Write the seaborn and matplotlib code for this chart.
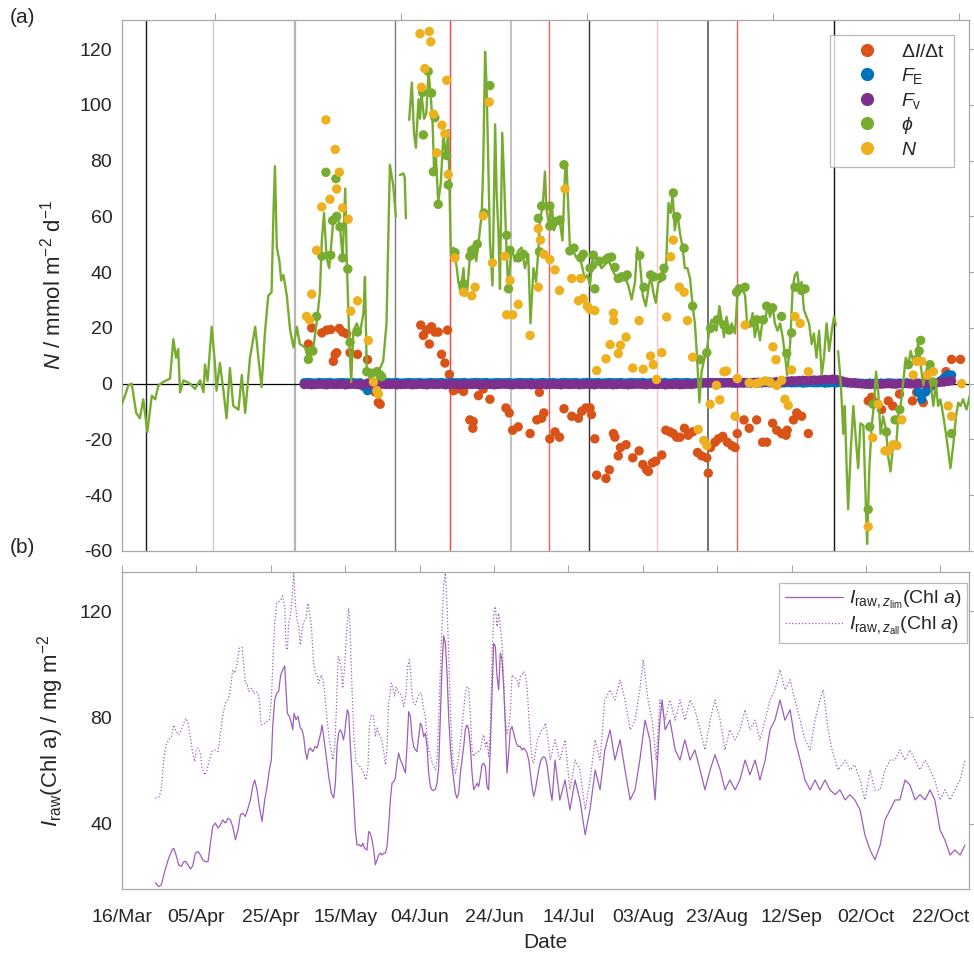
import matplotlib
matplotlib.use('Agg')
import matplotlib.pyplot as plt
from matplotlib.lines import Line2D
import pandas as pd
import seaborn as sns

# ---------------- data (x = day of year) ----------------
phi_line_doy = [
    74.9, 75.8, 76.7, 77.6, 78.8, 79.8, 80.7, 81.8, 83.0, 83.9, 84.8, 86.1, 87.9, 88.8, 89.5, 90.1,
    90.6, 91.5, 93.3, 94.6, 96.0, 96.9, 97.3, 98.0, 99.1, 100.0, 100.4, 101.3, 102.2, 103.1, 104.0,
    104.9, 106.3, 107.2, 108.1, 109.4, 110.8, 111.6, 112.5, 113.4, 114.3, 115.2, 115.7, 116.1, 116.6,
    117.3, 117.8, 118.4, 119.3, 120.2, 121.1, 122.0, 122.8, 124.2, 125.0, 126.3, 127.3, 128.2, 128.7,
    129.3, 130.0, 130.7, 131.8, 132.7, 133.6, 134.3, 135.0, 135.4, 136.1, 136.6, 137.2, 138.1, 139.0,
    139.9, 140.3, 140.8, 141.7, 142.6, 143.9, 145.2, 146.1, 147.0, 147.9, 148.6,
    149.7, 150.6, 151.0, 151.3,
    152.2, 152.9, 153.5, 154.0, 154.7, 155.1, 155.5, 156.2, 156.8, 157.4, 158.0, 158.5, 158.9, 159.4,
    160.0, 160.7, 161.4, 162.1, 162.7, 163.0, 163.4, 164.1, 165.0, 165.4, 166.0, 166.8, 167.2, 167.7,
    168.5, 169.4, 170.2, 170.8, 171.7, 172.1, 172.6, 173.0, 173.5, 173.9, 174.6, 175.3, 175.7, 176.2,
    176.6, 177.2, 177.7, 178.2, 178.8, 179.7, 180.6, 181.5, 182.4, 183.3, 184.2, 184.8, 185.6, 186.3,
    186.9, 187.4, 188.1, 188.7, 189.1, 189.9, 190.5, 191.1, 191.8, 192.7, 193.4, 194.1, 194.5, 195.4,
    196.3, 197.2, 198.1, 198.8, 199.4, 200.1, 200.8, 201.5, 202.1, 203.0, 203.9, 204.8, 205.7, 206.6,
    207.5, 208.4, 209.3, 210.2, 211.1, 212.0, 212.9, 213.5, 214.2, 215.0, 215.8, 216.5, 217.1, 217.8,
    218.5, 219.2, 219.8, 220.5, 221.2, 221.9, 222.5, 223.0, 223.6, 224.3, 225.0, 225.7, 226.3, 227.0,
    227.7, 228.4, 229.0, 229.6, 230.2, 230.8, 231.4, 232.2, 232.9, 233.5, 234.1, 234.8, 235.6, 236.2,
    236.8, 237.5, 238.2, 238.9, 239.8, 240.4, 241.1, 241.8, 242.5, 243.1, 243.8, 244.5, 245.1, 245.8,
    246.5, 247.2, 247.8, 248.5, 249.2, 249.9, 250.5, 251.2, 251.9, 252.6, 253.2, 253.8, 254.6, 255.3,
    255.9, 256.5, 257.1, 257.7, 258.3, 259.0, 259.7, 260.4, 261.0, 261.7, 262.4, 263.1, 263.7, 264.4,
    265.1, 265.8, 266.4, 266.9,
    267.5, 268.2, 268.9, 269.3, 269.8, 270.2, 270.9, 271.6, 272.3, 272.9, 273.5, 274.3, 275.0, 275.3,
    275.9, 276.5, 277.1, 277.7, 278.3, 278.9, 279.6, 280.4, 281.0, 281.6, 282.3, 283.1, 283.7, 284.3,
    285.0, 285.7, 286.4, 287.0, 287.7, 288.4, 289.0, 289.7, 290.4, 291.1, 291.7, 292.4, 293.1, 293.8,
    294.4, 295.0, 295.8, 296.5, 297.1, 297.7, 298.5, 299.2, 299.8, 300.4, 301.1, 302.0, 302.9]
phi_line_val = [
    -7.4, -4.3, -0.6, 0.0, -10.5, -12.4, -5.6, -17.3, -4.3, -5.6, -0.6, 0.6, 1.8, 16.0, 9.3, 12.4,
    -3.1, 1.2, 0.0, -1.9, 1.2, -3.1, 6.8, 1.0, 20.4, 6.8, -2.5, 7.4, -1.9, -12.4, 5.6,
    -8.0, -9.3, 3.1, -10.5, 9.3, 20.4, 10.0, -1.2, 18.0, 31.5, 32.8, 61.0, 78.0, 49.0,
    44.0, 37.0, 39.0, 31.5, 19.0, 13.0, 20.4, 14.2, 13.0, 9.0, 11.7, 21.6, 32.8, 51.3,
    61.2, 45.0, 41.4, 58.7, 61.2, 56.2, 45.0, 70.0, 45.0, 15.5, 0.6, 19.0, 21.6, 18.5,
    25.3, 38.3, 4.3, 1.8, 4.3, 4.3, 8.0, 21.6, 78.5, 71.1, 60.0,
    74.8, 75.4, 74.0, 59.3,
    94.6, 108.0, 89.6, 84.6, 102.0, 95.0, 104.0, 95.0, 97.0, 112.0, 103.0, 93.0, 76.0, 81.0,
    65.0, 72.0, 89.6, 81.0, 91.0, 72.0, 46.4, 48.8, 41.4, 36.5, 32.8, 41.4, 31.5, 32.0,
    45.0, 48.8, 43.9, 50.0, 61.2, 78.5, 119.0, 107.0, 76.0, 51.3, 35.2, 93.0, 68.6, 53.8,
    34.0, 90.0, 73.6, 53.8, 34.0, 49.0, 43.9, 47.6, 48.8, 41.4, 46.4, 21.6, 41.4, 36.5,
    47.6, 59.3, 63.6, 76.0, 62.4, 56.2, 64.8, 55.0, 57.4, 58.0, 51.3, 76.0, 78.5, 48.8,
    47.6, 45.0, 45.0, 41.4, 37.7, 39.0, 35.2, 45.0, 41.4, 43.9, 41.4, 42.6, 45.0, 41.4,
    39.0, 36.5, 39.0, 38.3, 35.2, 30.2, 36.5, 48.8, 43.9, 31.5, 27.8, 34.0, 39.0, 32.8,
    29.0, 36.5, 36.5, 41.4, 40.0, 64.8, 61.2, 68.6, 55.0, 61.2, 53.8, 48.8, 41.4, 41.4,
    37.7, 27.8, 21.6, 9.3, -6.8, 4.3, 8.0, 11.7, 19.7, 22.9, 21.6, 19.0, 27.8, 22.9,
    16.7, 24.0, 19.0, 21.6, 18.0, 31.5, 32.8, 34.0, 31.5, 20.4, 20.4, 25.3, 16.7, 21.6,
    15.5, 22.9, 21.6, 27.8, 24.0, 27.8, 21.6, 19.0, 21.6, 16.7, 10.5, 3.1, 14.2, 34.6,
    39.0, 40.0, 34.0, 36.5, 26.6, 24.0, 21.6, 14.2, 18.0, 9.3, 19.0, 3.1, 9.3, 21.6,
    11.7, 19.0, 24.0, 21.0,
    11.7, 0.6, -18.0, -8.0, -30.3, -45.0, -24.0, -8.0, -20.4, -30.3, -14.2, -15.0, -45.0, -57.5,
    -30.3, -15.5, -8.0, 4.3, -3.1, -18.0, -11.7, -16.7, -26.6, -31.5, -21.6, -23.0, -10.5, -8.0,
    0.6, 9.3, 6.8, 11.7, 8.0, 9.0, 14.2, 6.8, -0.6, 4.3, 6.8, 0.0, -8.0, -0.6,
    -8.0, -5.6, -11.7, -18.0, -24.0, -30.3, -21.6, -11.7, -6.8, -8.0, -5.6, -9.3, -4.3]
# day of year where the phi record is broken
phi_gaps = [149.2, 151.8, 267.2]

phi_dot_doy = [125.1, 125.7, 126.3, 127.3, 128.7, 129.8, 131.1, 131.6, 132.5, 132.7, 133.6, 134.3,
               135.7, 136.3, 138.3, 140.8, 142.1, 143.5, 144.4, 144.8, 155.8, 156.0, 157.3, 158.2,
               158.7, 159.1, 160.0, 162.3, 162.7, 164.5, 166.8, 168.5, 169.0, 169.6, 170.5, 172.3,
               173.9, 178.4, 178.9, 179.3, 181.5, 182.9, 186.9, 187.2, 187.8, 190.0, 190.0, 191.4,
               192.7, 193.8, 195.4, 196.5, 198.3, 199.0, 200.8, 201.7, 202.1, 203.3, 205.1, 205.7,
               206.6, 207.5, 208.4, 209.3, 210.2, 210.8, 214.2, 215.3, 217.1, 218.0, 220.1, 220.7,
               223.2, 224.1, 226.1, 228.4, 230.4, 232.2, 233.2, 235.0, 236.8, 238.2, 240.2, 240.9,
               242.5, 244.7, 245.6, 247.4, 248.3, 249.9, 252.3, 253.7, 255.0, 255.9, 257.7, 258.6,
               275.6, 276.0, 276.9, 280.5, 282.8, 284.1, 286.4, 288.6, 289.3, 289.7, 292.2, 293.1,
               298.0]
phi_dot_val = [8.7, 11.7, 11.7, 24.1, 45.7, 75.8, 46.1, 58.5, 73.5, 60.0, 56.2, 45.1,
               41.1, 14.8, 18.5, 4.3, 3.7, 4.3, 3.1, 2.5, 104.4, 89.2, 112.0, 104.2,
               76.0, 95.4, 64.3, 81.8, 71.3, 47.0, 35.8, 45.7, 47.8, 48.2, 50.0, 61.2,
               106.9, 53.2, 34.0, 47.8, 45.1, 46.4, 59.3, 47.3, 63.7, 63.7, 56.5, 58.1,
               58.7, 78.5, 47.6, 48.6, 45.1, 46.4, 41.4, 46.1, 34.0, 43.9, 44.5, 45.1,
               45.4, 41.7, 37.7, 38.3, 38.3, 39.0, 46.0, 34.6, 39.0, 38.3, 38.3, 41.4,
               68.4, 59.9, 48.6, 27.8, 8.6, 11.1, 19.8, 22.9, 21.0, 19.2, 32.8, 34.0,
               34.6, 21.9, 22.9, 22.9, 27.8, 27.2, 24.1, 10.8, 18.2, 34.6, 33.4, 34.0,
               -45.1, -15.5, -7.4, -17.3, -13.0, -9.3, 6.8, 8.7, 11.7, 15.5, 6.8, 0.6,
               -17.9]

dIdt_doy = [125.1, 126.0, 128.7, 130.0, 131.1, 131.8, 132.3, 132.7, 133.4, 134.3, 135.4, 136.3,
            138.3, 141.0, 143.0, 143.9, 144.4, 155.3, 156.0, 156.9, 157.6, 158.2, 159.1, 160.0,
            160.9, 161.8, 162.5, 163.0, 164.1, 165.0, 166.8, 168.5, 169.3, 169.4, 170.8, 172.1,
            173.9, 178.2, 179.1, 180.0, 181.5, 184.7, 186.5, 187.2, 187.8, 188.4, 190.0, 191.4,
            192.6, 193.8, 195.9, 197.7, 198.6, 199.7, 200.8, 201.2, 202.1, 202.6, 205.1, 206.0,
            207.1, 207.5, 208.4, 209.0, 210.5, 212.3, 214.0, 215.0, 216.0, 216.5, 217.6, 218.5,
            220.1, 221.2, 222.3, 223.2, 224.1, 225.0, 226.2, 227.2, 228.4, 229.7, 230.8, 232.2,
            232.6, 233.2, 234.4, 235.3, 236.5, 237.7, 238.9, 239.8, 240.4, 242.2, 243.6, 245.6,
            247.2, 248.3, 249.9, 251.0, 252.3, 253.5, 253.8, 255.5, 256.4, 257.7, 259.5, 275.6,
            276.5, 277.4, 279.2, 281.0, 282.2, 284.0, 287.5, 288.6, 290.4, 296.5, 297.1, 298.0,
            300.4]
dIdt_val = [14.2, 20.0, 18.2, 19.2, 19.4, 8.0, 10.5, 11.1, 19.8, 18.5, 17.9, 11.1,
            10.5, 8.6, -3.0, -6.8, -7.4, 21.0, 17.3, 19.2, 14.2, 20.4, 18.5, 18.5,
            10.5, 7.4, 19.2, 3.3, -2.5, -1.9, -2.8, -13.0, -16.0, -13.6, -4.3, -1.9,
            -5.6, -8.7, -10.5, -16.7, -15.5, -17.9, -13.0, -3.1, -12.4, -10.5, -19.8, -17.3,
            -19.2, -9.0, -11.7, -12.4, -9.9, -8.7, -8.7, -11.1, -19.8, -32.8, -34.0, -30.9,
            -17.9, -19.2, -25.9, -22.9, -21.9, -26.6, -24.1, -29.0, -30.9, -31.5, -28.4, -27.8,
            -25.6, -16.7, -17.3, -17.9, -19.2, -19.2, -16.0, -18.5, -17.3, -24.7, -25.9, -26.6,
            -32.1, -22.9, -21.0, -19.8, -18.9, -21.0, -22.2, -22.9, -17.9, -13.0, -16.0, -13.0,
            -21.0, -21.0, -14.2, -16.7, -17.9, -18.5, -16.7, -13.0, -10.5, -11.7, -17.9, -6.2,
            -4.9, -6.8, -9.3, -6.2, -8.0, -3.7, -6.2, -3.1, -6.8, 4.3, 1.8, 8.7,
            8.7]

n_doy = [124.6, 125.4, 126.0, 127.3, 128.7, 129.8, 130.9, 132.3, 132.7, 133.4, 134.3, 135.8,
         136.5, 138.3, 141.2, 142.6, 143.5, 143.9, 155.1, 155.5, 156.4, 157.6, 158.0, 158.7,
         159.6, 161.0, 161.8, 162.3, 162.7, 164.5, 166.8, 169.0, 169.9, 172.1, 173.7, 174.6,
         177.9, 178.4, 179.3, 180.0, 181.5, 184.7, 186.9, 186.9, 187.5, 188.4, 190.0, 191.4,
         192.6, 194.1, 195.9, 197.7, 198.3, 199.0, 200.1, 200.8, 202.1, 202.6, 205.1, 206.2,
         207.1, 207.2, 208.4, 209.0, 210.5, 212.3, 214.0, 215.1, 217.1, 217.8, 218.7, 220.1,
         221.4, 222.5, 223.2, 224.8, 226.1, 227.0, 228.4, 229.9, 231.4, 232.2, 233.1, 234.8,
         235.7, 236.8, 237.5, 239.8, 240.4, 242.5, 243.6, 245.4, 246.5, 247.9, 249.2, 250.0,
         250.8, 251.0, 252.3, 253.2, 254.1, 255.0, 255.9, 257.3, 259.5, 275.6, 276.8, 278.3,
         280.1, 281.0, 282.3, 283.3, 284.6, 287.7, 288.6, 290.0, 291.5, 293.1, 297.1, 298.0,
         300.7]
n_val = [24.1, 22.9, 32.1, 47.8, 63.4, 94.6, 66.1, 84.0, 69.8, 75.8, 63.0, 59.0,
         26.0, 29.7, 15.5, 0.6, -2.5, -3.7, 125.5, 106.3, 113.0, 126.3, 122.6, 96.7,
         82.8, 92.7, 89.6, 108.8, 75.0, 45.1, 32.8, 31.5, 34.6, 60.2, 101.0, 43.3,
         45.7, 24.7, 37.0, 24.7, 28.4, 17.3, 55.6, 34.6, 51.5, 46.4, 44.5, 40.8,
         33.4, 69.8, 37.7, 29.7, 37.7, 30.5, 27.8, 26.6, 26.2, 4.7, 8.9, 14.0,
         25.3, 22.6, 10.8, 13.8, 16.7, 5.6, 22.6, 5.2, 9.9, 6.8, 1.5, 11.1,
         23.9, 45.5, 51.5, 34.6, 32.8, 22.6, 9.5, -16.4, -20.4, -22.2, -7.4, -0.6,
         -5.8, 4.3, 4.5, -11.7, 1.8, 21.0, 0.3, 0.0, 0.5, 1.0, 0.5, 13.2,
         8.6, -0.6, 1.2, -5.6, -7.8, 4.9, 24.1, 21.6, 4.3, -51.3, -19.4, -7.4,
         -24.1, -24.1, -21.9, -22.2, -13.0, 3.1, 8.0, 8.0, 3.1, 4.3, -8.0, -11.7,
         0.0]

flux_doy = list(range(124, 268)) + list(range(268, 299))
fv_val = [
    -0.3, -0.2, -0.4, -0.3, -0.2, -0.3, -0.4, -0.2, -0.3, -0.3, -0.2, -0.4,
    -0.3, -0.2, -0.3, -0.4, -0.3, 0.2, -0.2, -0.3, -0.4, -0.2, -0.3, -0.3,
    -0.2, -0.4, -0.3, -0.3, -0.2, -0.4, -0.3, -0.2, -0.3, -0.4, -0.2, -0.3,
    -0.3, -0.2, -0.4, -0.3, -0.2, -0.3, -0.4, -0.2, -0.3, -0.3, -0.2, -0.4,
    -0.3, -0.2, -0.3, -0.4, -0.3, -0.2, -0.2, -0.3, -0.4, -0.2, -0.3, -0.3,
    -0.2, -0.4, -0.3, -0.3, -0.2, -0.4, -0.3, -0.2, -0.3, -0.4, -0.2, -0.3,
    -0.3, -0.2, -0.4, -0.3, -0.2, -0.3, -0.4, -0.2, -0.3, -0.3, -0.2, -0.4,
    -0.3, -0.2, -0.3, -0.4, -0.3, -0.2, -0.2, -0.3, -0.4, -0.2, -0.3, -0.3,
    -0.2, -0.4, -0.3, -0.3, -0.2, -0.4, -0.3, -0.2, -0.3, -0.1, 0.0, 0.2,
    0.3, 0.2, 0.4, 0.3, 0.2, 0.3, 0.4, 0.2, 0.3, 0.3, 0.2, 0.4,
    0.3, 0.4, 0.5, 0.4, 0.5, 0.6, 0.5, 0.7, 0.8, 0.7, 0.9, 1.0,
    1.0, 1.1, 1.2, 1.1, 1.2, 1.3, 1.2, 1.4, 1.5, 1.4, 1.6, 1.5,
    1.2, 0.8, 0.5, 0.3, 0.2, 0.0, -0.1, -0.2, -0.3, -0.2, -0.3, -0.2,
    -0.1, 0.0, -0.1, -0.2, 0.0, 0.1, 0.0, -0.1, 0.0, 0.2, 0.1, 0.0,
    -0.1, 0.0, 0.3, 0.5, 0.6, 0.8, 1.0]
fe_val = [
    0.3, 0.4, 0.3, 0.2, 0.4, 0.3, 0.3, 0.4, 0.2, 0.3, 0.4, 0.3,
    0.3, 0.4, 0.2, 0.3, -1.0, -2.5, 0.3, 0.4, 0.3, 0.2, 0.4, 0.3,
    0.3, 0.4, 0.2, 0.3, 0.4, 0.3, 0.3, 0.4, 0.2, 0.3, 0.4, 0.3,
    0.3, 0.4, 0.2, 0.3, 0.4, 0.3, 0.3, 0.4, 0.2, 0.3, 0.4, 0.3,
    0.3, 0.4, 0.2, 0.3, 0.4, 0.3, 0.3, 0.4, 0.2, 0.3, 0.4, 0.3,
    0.3, 0.4, 0.2, 0.3, 0.4, 0.3, 0.3, 0.4, 0.2, 0.3, 0.4, 0.3,
    0.3, 0.4, 0.2, 0.3, 0.4, 0.3, 0.3, 0.4, 0.2, 0.3, 0.4, 0.3,
    0.3, 0.4, 0.2, 0.3, 0.4, 0.3, 0.3, 0.4, 0.2, 0.3, 0.4, 0.3,
    0.3, 0.4, 0.2, 0.3, 0.4, 0.3, 0.3, 0.4, 0.2, 0.3, 0.4, 0.3,
    0.3, 0.4, 0.2, 0.3, 0.4, 0.3, 0.3, 0.4, 0.2, 0.3, 0.4, 0.3,
    0.3, 0.4, 0.2, 0.3, 0.4, 0.3, 0.3, 0.4, 0.2, 0.3, 0.4, 0.3,
    0.3, 0.4, 0.2, 0.3, 0.4, 0.3, 0.3, 0.4, 0.2, 0.3, 0.4, 0.3,
    0.5, 0.4, 0.3, 0.2, 0.3, 0.2, 0.1, 0.0, 0.2, 0.1, 0.0, 0.2,
    0.1, 0.3, 0.2, 0.1, 0.2, 0.0, 0.3, 0.1, 0.2, -3.0, -5.6, -3.0,
    -1.5, -0.6, 0.3, 1.0, 2.0, 3.1, 3.1]

# I_raw,z_lim (solid) : (day of year, mg m-2)
lim_points = [
    (83.96, 17.9), (84.86, 16.4), (85.57, 17.1), (86.47, 22.1), (87.54, 27.1), (88.44, 30.2),
    (88.89, 30.8), (89.52, 28.3), (90.23, 24.6), (90.95, 24.0), (91.58, 25.8), (92.2, 25.8),
    (92.74, 24.6), (93.37, 23.0), (94.0, 24.2), (94.71, 29.0), (95.43, 29.6), (96.06, 28.3),
    (96.68, 26.5), (97.4, 25.8), (98.12, 25.8), (98.75, 32.7), (99.37, 39.0), (100.09, 40.3),
    (100.81, 38.4), (101.43, 39.6), (102.06, 41.5), (102.78, 40.3), (103.49, 42.1), (104.12, 41.5),
    (104.75, 39.0), (105.47, 34.0), (106.18, 37.7), (106.81, 43.4), (107.44, 44.0), (108.15, 42.8),
    (108.87, 45.9), (109.5, 49.0), (110.13, 54.0), (110.66, 56.5), (111.29, 52.8), (111.92, 46.5),
    (112.63, 40.9), (113.35, 49.0), (113.98, 54.0), (114.61, 60.3), (115.14, 64.1), (115.5, 76.6),
    (116.04, 86.6), (116.58, 89.1), (117.11, 89.8), (117.65, 96.0), (118.19, 97.9), (118.73, 99.4),
    (119.09, 90.4), (119.44, 81.6), (119.98, 80.4), (120.52, 77.9), (120.88, 75.4), (121.24, 81.6),
    (121.77, 79.1), (122.31, 80.4), (122.94, 76.0), (123.39, 75.4), (123.84, 72.8), (124.28, 67.2),
    (124.73, 64.3), (125.18, 67.8), (125.63, 68.5), (126.25, 67.2), (126.97, 69.1), (127.42, 68.5),
    (127.87, 71.0), (128.41, 74.1), (128.76, 77.2), (129.21, 72.8), (129.84, 66.0), (130.56, 57.8),
    (131.27, 51.5), (131.9, 49.7), (132.35, 55.3), (132.8, 69.1), (133.24, 74.1), (133.69, 75.4),
    (134.14, 74.1), (134.5, 71.6), (134.86, 74.1), (135.22, 79.1), (135.57, 82.9), (135.93, 81.6),
    (136.38, 69.1), (136.83, 59.1), (137.28, 49.0), (137.72, 37.7), (138.17, 32.1), (138.8, 32.1),
    (139.34, 31.5), (139.7, 32.7), (140.23, 30.8), (140.86, 30.2), (141.31, 37.1), (141.76, 36.5),
    (142.2, 34.0), (142.65, 30.2), (143.1, 24.6), (143.55, 26.5), (144.0, 28.3), (144.44, 29.0),
    (144.89, 28.3), (145.34, 29.0), (145.79, 29.0), (146.24, 31.5), (146.68, 39.0), (147.13, 49.0),
    (147.58, 55.3), (148.03, 55.9), (148.48, 57.2), (148.92, 62.8), (149.37, 66.6), (149.82, 64.1),
    (150.27, 62.8), (150.72, 60.9), (151.16, 59.1), (151.61, 69.1), (152.06, 82.2), (152.51, 80.4),
    (152.96, 72.8), (153.41, 69.1), (153.85, 67.8), (154.3, 67.2), (154.75, 72.8), (155.2, 77.9),
    (155.65, 76.6), (156.09, 72.8), (156.54, 74.1), (156.99, 69.1), (157.44, 59.1), (157.89, 54.0),
    (158.33, 52.8), (158.78, 52.5), (159.23, 53.0), (159.68, 55.3), (160.13, 61.6), (160.57, 80.4),
    (161.02, 99.2), (161.47, 110.7), (161.92, 107.9), (162.37, 96.7), (162.81, 80.4), (163.26, 69.1),
    (163.71, 61.6), (164.16, 56.5), (164.61, 51.5), (165.05, 49.7), (165.5, 51.5), (165.95, 59.1),
    (166.4, 64.1), (166.85, 69.1), (167.29, 75.4), (167.74, 77.2), (168.19, 75.4), (168.64, 69.1),
    (169.09, 59.1), (169.53, 52.8), (169.98, 54.0), (170.43, 55.3), (170.88, 54.0), (171.33, 57.8),
    (171.77, 62.2), (172.22, 62.8), (172.67, 61.6), (173.12, 54.0), (173.57, 52.8), (174.01, 69.1),
    (174.46, 89.1), (174.91, 107.9), (175.36, 106.7), (175.81, 95.4), (176.25, 90.4), (176.7, 104.2),
    (177.15, 101.7), (177.6, 91.6), (178.05, 76.6), (178.49, 59.1), (178.94, 66.6), (179.39, 75.4),
    (179.84, 76.6), (180.29, 74.1), (180.73, 71.6), (181.18, 69.7), (181.63, 69.1), (182.08, 69.1),
    (182.53, 67.8), (182.97, 68.5), (183.42, 67.8), (183.87, 66.6), (184.32, 64.1), (184.77, 59.1),
    (185.22, 54.0), (185.66, 50.3), (186.11, 52.8), (186.56, 56.5), (187.01, 60.3), (187.46, 63.4),
    (187.9, 64.7), (188.35, 65.3), (188.8, 64.7), (189.25, 62.2), (189.7, 57.2), (190.14, 52.5),
    (190.59, 48.8), (191.4, 64.0), (192.7, 49.0), (194.1, 56.5), (195.4, 45.3), (196.8, 56.5),
    (198.1, 49.0), (199.5, 35.9), (200.8, 45.3), (202.2, 60.3), (203.5, 52.8), (204.8, 67.8),
    (206.2, 75.4), (207.5, 64.0), (208.9, 71.6), (210.2, 60.3), (211.6, 49.0), (212.9, 52.8),
    (214.2, 64.0), (215.6, 79.0), (216.9, 71.6), (218.3, 49.0), (219.6, 79.0), (220.2, 86.6),
    (221.0, 75.4), (222.3, 79.0), (223.7, 67.8), (225.0, 64.0), (226.3, 71.6), (227.7, 64.0),
    (229.0, 67.8), (230.4, 60.3), (231.7, 52.8), (233.1, 60.3), (234.4, 66.0), (235.8, 60.3),
    (237.1, 52.8), (238.4, 56.5), (239.8, 52.8), (241.1, 56.5), (242.5, 64.0), (243.8, 58.4),
    (245.2, 64.0), (246.5, 56.5), (247.9, 64.0), (249.2, 75.4), (250.5, 79.0), (251.9, 86.6),
    (253.2, 79.0), (254.6, 82.9), (255.9, 71.6), (257.3, 64.0), (258.6, 56.5), (260.0, 52.8),
    (261.3, 56.5), (262.6, 52.8), (264.0, 56.5), (265.3, 52.8), (266.7, 51.0), (268.0, 52.8),
    (269.4, 49.0), (270.7, 51.0), (272.0, 49.0), (273.4, 45.3), (274.7, 35.9), (276.1, 30.2),
    (277.4, 26.5), (278.8, 32.0), (280.1, 41.5), (281.5, 45.3), (282.8, 49.0), (284.1, 49.0),
    (285.5, 56.5), (286.8, 54.7), (288.2, 49.0), (289.5, 51.0), (290.9, 49.0), (292.2, 52.8),
    (293.5, 49.0), (294.9, 37.7), (296.2, 34.0), (297.6, 28.3), (298.9, 30.2), (300.3, 28.3),
    (301.6, 32.0)]

# I_raw,z_all (dotted) : (day of year, mg m-2)
all_points = [
    (83.96, 49.7), (84.86, 50.0), (85.57, 52.8), (86.2, 64.1), (86.83, 69.7), (87.54, 71.6),
    (88.26, 72.8), (88.89, 77.2), (89.52, 74.7), (90.23, 73.5), (90.95, 75.4), (91.58, 77.9),
    (92.2, 79.7), (92.74, 77.9), (93.37, 72.8), (94.0, 66.6), (94.53, 63.4), (94.89, 67.8),
    (95.43, 68.5), (96.06, 66.6), (96.5, 60.9), (97.22, 58.4), (97.85, 60.3), (98.48, 64.1),
    (99.19, 67.2), (99.91, 67.8), (100.81, 67.2), (101.43, 74.1), (102.06, 80.4), (102.78, 85.4),
    (103.49, 86.6), (104.12, 90.4), (104.75, 97.9), (105.29, 96.7), (105.91, 100.4), (106.54, 106.1),
    (107.26, 106.4), (107.71, 100.4), (108.15, 92.9), (108.6, 92.9), (109.05, 89.8), (109.77, 91.0),
    (110.39, 89.1), (111.02, 89.8), (111.56, 89.1), (111.92, 86.6), (112.28, 78.5), (112.63, 77.2),
    (113.35, 77.9), (113.98, 78.5), (114.61, 79.1), (115.14, 86.6), (115.5, 99.2), (116.04, 115.5),
    (116.58, 123.0), (117.11, 123.6), (117.65, 124.2), (118.19, 125.7), (118.73, 121.7), (119.09, 106.7),
    (119.44, 105.4), (119.8, 115.5), (120.25, 118.0), (120.7, 124.2), (121.15, 134.3), (121.59, 123.0),
    (122.04, 116.7), (122.49, 114.2), (122.94, 107.3), (123.39, 113.0), (123.84, 116.1), (124.46, 117.3),
    (125.0, 123.0), (125.36, 119.9), (125.9, 114.2), (126.52, 100.4), (126.97, 96.7), (127.42, 96.0),
    (127.87, 92.9), (128.58, 96.0), (129.03, 94.2), (129.48, 89.1), (130.11, 79.1), (130.74, 71.6),
    (131.27, 67.2), (131.72, 64.1), (132.17, 69.1), (132.62, 82.9), (133.06, 102.9), (133.42, 101.7),
    (133.96, 97.9), (134.32, 91.0), (134.86, 99.2), (135.39, 113.0), (135.93, 121.1), (136.29, 114.2),
    (136.83, 90.4), (137.37, 71.6), (137.9, 63.4), (138.62, 62.2), (139.34, 60.9), (139.96, 59.1),
    (140.59, 56.5), (141.13, 61.6), (141.49, 76.6), (142.03, 81.0), (142.65, 80.4), (143.1, 72.8),
    (143.55, 76.0), (144.0, 74.1), (144.44, 72.8), (144.89, 71.0), (145.34, 67.2), (145.79, 62.2),
    (146.24, 68.5), (146.68, 85.4), (147.4, 92.9), (147.76, 91.6), (148.3, 87.9), (148.66, 91.6),
    (149.19, 89.8), (149.82, 89.1), (150.27, 87.3), (150.72, 84.1), (151.34, 89.1), (151.79, 99.2),
    (152.24, 101.7), (152.6, 96.7), (152.96, 88.5), (153.41, 85.4), (153.85, 84.8), (154.3, 86.6),
    (154.93, 89.1), (155.47, 89.1), (156.09, 82.9), (156.54, 80.4), (156.99, 72.8), (157.44, 67.8),
    (158.15, 64.1), (158.78, 61.6), (159.23, 60.3), (159.68, 64.1), (160.13, 79.1), (160.57, 97.9),
    (161.02, 114.2), (161.47, 130.5), (161.92, 134.3), (162.37, 121.7), (162.81, 104.2), (163.26, 84.1),
    (163.71, 69.1), (164.16, 61.6), (164.61, 59.1), (165.05, 61.6), (165.5, 65.3), (165.95, 70.3),
    (166.4, 76.6), (166.85, 82.9), (167.29, 89.1), (167.74, 91.6), (168.19, 91.0), (168.64, 80.4),
    (169.09, 67.8), (169.53, 65.3), (169.98, 66.6), (170.43, 66.6), (170.88, 67.2), (171.33, 67.8),
    (171.77, 71.6), (172.22, 73.5), (172.67, 69.1), (173.12, 71.0), (173.57, 65.3), (174.01, 76.6),
    (174.46, 101.7), (174.91, 119.2), (175.36, 121.7), (175.81, 114.2), (176.25, 119.2), (176.7, 114.2),
    (177.15, 107.9), (177.6, 94.2), (178.05, 79.1), (178.49, 74.1), (178.94, 76.6), (179.39, 81.6),
    (179.84, 96.0), (180.29, 95.4), (180.73, 94.8), (181.18, 94.2), (181.63, 91.6), (182.08, 95.4),
    (182.53, 96.0), (182.97, 97.3), (183.42, 96.0), (183.87, 91.6), (184.32, 81.6), (184.77, 71.6),
    (185.22, 64.1), (185.66, 62.8), (186.11, 66.6), (186.56, 71.0), (187.01, 72.8), (187.46, 74.1),
    (187.9, 75.4), (188.35, 76.0), (188.8, 77.9), (189.25, 74.1), (189.7, 69.1), (190.14, 64.1),
    (191.4, 71.6), (192.7, 64.0), (194.1, 71.6), (195.4, 52.8), (196.8, 64.0), (198.1, 60.3),
    (199.5, 45.3), (200.8, 56.5), (202.2, 71.6), (203.5, 64.0), (204.8, 86.6), (206.2, 90.4),
    (207.5, 86.6), (208.9, 94.2), (210.2, 86.6), (211.6, 75.4), (212.9, 79.0), (214.2, 90.4),
    (215.1, 101.7), (216.4, 86.6), (217.5, 79.0), (218.6, 64.0), (219.6, 86.6), (221.0, 79.0),
    (222.3, 86.6), (223.7, 79.0), (225.0, 86.6), (226.3, 79.0), (227.7, 86.6), (229.0, 82.9),
    (230.4, 75.4), (231.7, 67.8), (233.1, 79.0), (234.4, 86.6), (235.8, 79.0), (237.1, 67.8),
    (238.4, 75.4), (239.8, 71.6), (241.1, 75.4), (242.5, 82.9), (243.8, 75.4), (245.2, 79.0),
    (246.5, 71.6), (247.9, 79.0), (249.2, 86.6), (250.5, 90.4), (251.9, 98.0), (253.2, 90.4),
    (254.6, 94.2), (255.9, 86.6), (257.3, 79.0), (258.6, 71.6), (260.0, 67.8), (261.3, 79.0),
    (262.6, 86.6), (263.5, 90.4), (264.8, 75.4), (265.9, 67.8), (267.5, 60.3), (269.4, 64.0),
    (270.7, 60.3), (272.0, 62.2), (273.4, 56.5), (274.7, 49.0), (276.1, 60.3), (277.4, 52.8),
    (278.8, 52.8), (280.1, 60.3), (281.5, 64.0), (282.8, 64.0), (284.1, 67.8), (285.5, 64.0),
    (286.8, 67.8), (288.2, 64.0), (289.5, 60.3), (290.9, 64.0), (292.2, 60.3), (293.5, 56.5),
    (294.9, 49.0), (296.2, 52.8), (297.6, 49.0), (298.9, 52.8), (300.3, 56.5), (301.6, 64.0)]
lim_doy = [p[0] for p in lim_points]
lim_val = [p[1] for p in lim_points]
all_doy = [p[0] for p in all_points]
all_val = [p[1] for p in all_points]

event_doy = [81.5, 99.5, 121.5, 148.4, 163.2, 179.6, 189.8, 200.5, 218.8, 232.5, 240.3, 266.4]
event_colors = ['#1a1a1a', '#cfcfcf', '#b5b5b5', '#7a7a7a', '#ff4040', '#b8b8b8',
                '#ff5a5a', '#303030', '#f7c4c4', '#5a5a5a', '#e56060', '#111111']
event_widths = [1.0, 1.0, 1.6, 1.0, 1.0, 1.2, 1.0, 1.0, 1.0, 1.2, 1.0, 1.0]

date_ticks = [75, 95, 115, 135, 155, 175, 195, 215, 235, 255, 275, 295]
date_labels = ['16/Mar', '05/Apr', '25/Apr', '15/May', '04/Jun', '24/Jun', '14/Jul',
               '03/Aug', '23/Aug', '12/Sep', '02/Oct', '22/Oct']
top_xticks = [100, 150, 200, 250, 300]
top_yticks = [-60, -40, -20, 0, 20, 40, 60, 80, 100, 120]
bot_yticks = [40, 80, 120]

# ---------------- styling ----------------
sns.set_theme(style='white')
plt.rcParams['font.family'] = ['Liberation Sans', 'DejaVu Sans']
plt.rcParams['mathtext.fontset'] = 'custom'
plt.rcParams['mathtext.rm'] = 'Liberation Sans'
plt.rcParams['mathtext.it'] = 'Liberation Sans:italic'
plt.rcParams['mathtext.bf'] = 'Liberation Sans:bold'
plt.rcParams['axes.unicode_minus'] = False

C_RED, C_BLUE, C_PURP, C_GREEN, C_ORANGE = '#D95319', '#0072BD', '#7E2F8E', '#77AC30', '#EDB120'
C_SPINE = '#a8a8a8'
C_TEXT = '#262626'
C_LINE = '#9d5fb8'
FS = 14
MS = 46

fig = plt.figure(figsize=(9.74, 9.59), dpi=100)
ax1 = fig.add_axes([0.1253, 0.4255, 0.8696, 0.5536])
ax2 = fig.add_axes([0.1253, 0.0727, 0.8696, 0.3308])

# ---------------- panel (a) ----------------
for xv, cc, lw in zip(event_doy, event_colors, event_widths):
    ax1.axvline(xv, color=cc, lw=lw, zorder=1)
ax1.axhline(0, color='black', lw=0.9, zorder=1.5)

sns.scatterplot(x=dIdt_doy, y=dIdt_val, color=C_RED, s=MS, edgecolor='none', ax=ax1, zorder=3)
sns.scatterplot(x=flux_doy, y=fe_val, color=C_BLUE, s=MS, edgecolor='none', ax=ax1, zorder=3.1)
sns.scatterplot(x=flux_doy, y=fv_val, color=C_PURP, s=MS, edgecolor='none', ax=ax1, zorder=3.2)
df_phi = pd.DataFrame({'doy': phi_line_doy, 'val': phi_line_val})
df_phi['seg'] = df_phi['doy'].apply(lambda d: sum(d > g for g in phi_gaps))
sns.lineplot(data=df_phi, x='doy', y='val', units='seg', estimator=None, sort=False,
             color=C_GREEN, lw=1.7, ax=ax1, legend=False, zorder=3.3)
sns.scatterplot(x=phi_dot_doy, y=phi_dot_val, color=C_GREEN, s=MS, edgecolor='none', ax=ax1, zorder=3.4)
sns.scatterplot(x=n_doy, y=n_val, color=C_ORANGE, s=MS, edgecolor='none', ax=ax1, zorder=3.5)

ax1.set_xlim(75, 302.7)
ax1.set_ylim(-60, 130.4)
ax1.set_xticks(top_xticks)
ax1.set_xticklabels([])
ax1.set_yticks(top_yticks)
ax1.set_xlabel('')
ax1.set_ylabel(r'$N$ / mmol m$^{-2}$ d$^{-1}$', fontsize=16, color=C_TEXT, labelpad=10)
ax1.tick_params(axis='both', which='both', direction='out', length=5, width=0.8, pad=2,
                color=C_SPINE, labelsize=FS, labelcolor=C_TEXT, top=True, right=True,
                labelright=False, labeltop=False)
for sp in ax1.spines.values():
    sp.set_color(C_SPINE)
    sp.set_linewidth(0.9)

leg_handles = [Line2D([], [], marker='o', ls='none', color=c, markersize=8.5)
               for c in [C_RED, C_BLUE, C_PURP, C_GREEN, C_ORANGE]]
leg_labels = [r'$\Delta I/\Delta\mathrm{t}$', r'$F_{\mathrm{E}}$', r'$F_{\mathrm{v}}$',
              r'$\phi$', r'$N$']
leg1 = ax1.legend(leg_handles, leg_labels, loc='upper right', bbox_to_anchor=(0.982, 0.972),
                  fontsize=FS, frameon=True, fancybox=False, edgecolor=C_SPINE,
                  handlelength=2.9, handletextpad=0.3, labelspacing=0.24, borderpad=0.45,
                  borderaxespad=0.0)
leg1.get_frame().set_linewidth(0.9)

# ---------------- panel (b) ----------------
sns.lineplot(x=lim_doy, y=lim_val, color=C_LINE, lw=0.9, ax=ax2, estimator=None, sort=False)
sns.lineplot(x=all_doy, y=all_val, color=C_LINE, lw=0.9, ls=':', ax=ax2, estimator=None, sort=False)
ax2.set_xlim(75, 302.7)
ax2.set_ylim(15.4, 134.7)
ax2.set_xticks(date_ticks)
ax2.set_xticklabels(date_labels)
ax2.set_yticks(bot_yticks)
ax2.set_xlabel('Date', fontsize=15, color=C_TEXT, labelpad=5)
ax2.set_ylabel(r'$I_{\mathrm{raw}}$(Chl a) / mg m$^{-2}$', fontsize=16, color=C_TEXT, labelpad=10)
ax2.tick_params(axis='y', which='both', pad=2)
ax2.tick_params(axis='x', which='both', pad=9)
ax2.tick_params(axis='both', which='both', direction='out', length=5, width=0.8,
                color=C_SPINE, labelsize=FS, labelcolor=C_TEXT, top=True, right=True,
                labelright=False, labeltop=False)
for sp in ax2.spines.values():
    sp.set_color(C_SPINE)
    sp.set_linewidth(0.9)
h2 = [Line2D([], [], color=C_LINE, lw=0.9), Line2D([], [], color=C_LINE, lw=0.9, ls=':')]
l2 = [r'$I_{\mathrm{raw},z_{\mathrm{lim}}}$(Chl $a$)', r'$I_{\mathrm{raw},z_{\mathrm{all}}}$(Chl $a$)']
leg2 = ax2.legend(h2, l2, loc='upper right', bbox_to_anchor=(0.998, 0.964), fontsize=FS,
                  frameon=True, fancybox=False, edgecolor=C_SPINE, handlelength=3.0,
                  handletextpad=0.3, labelspacing=0.2, borderpad=0.3, borderaxespad=0.0)
leg2.get_frame().set_linewidth(0.9)

fig.text(0.0103, 0.9917, '(a)', fontsize=15, color=C_TEXT, va='top', ha='left')
fig.text(0.0103, 0.4286, '(b)', fontsize=15, color=C_TEXT, va='center', ha='left')

fig.savefig('out.png', dpi=100)
